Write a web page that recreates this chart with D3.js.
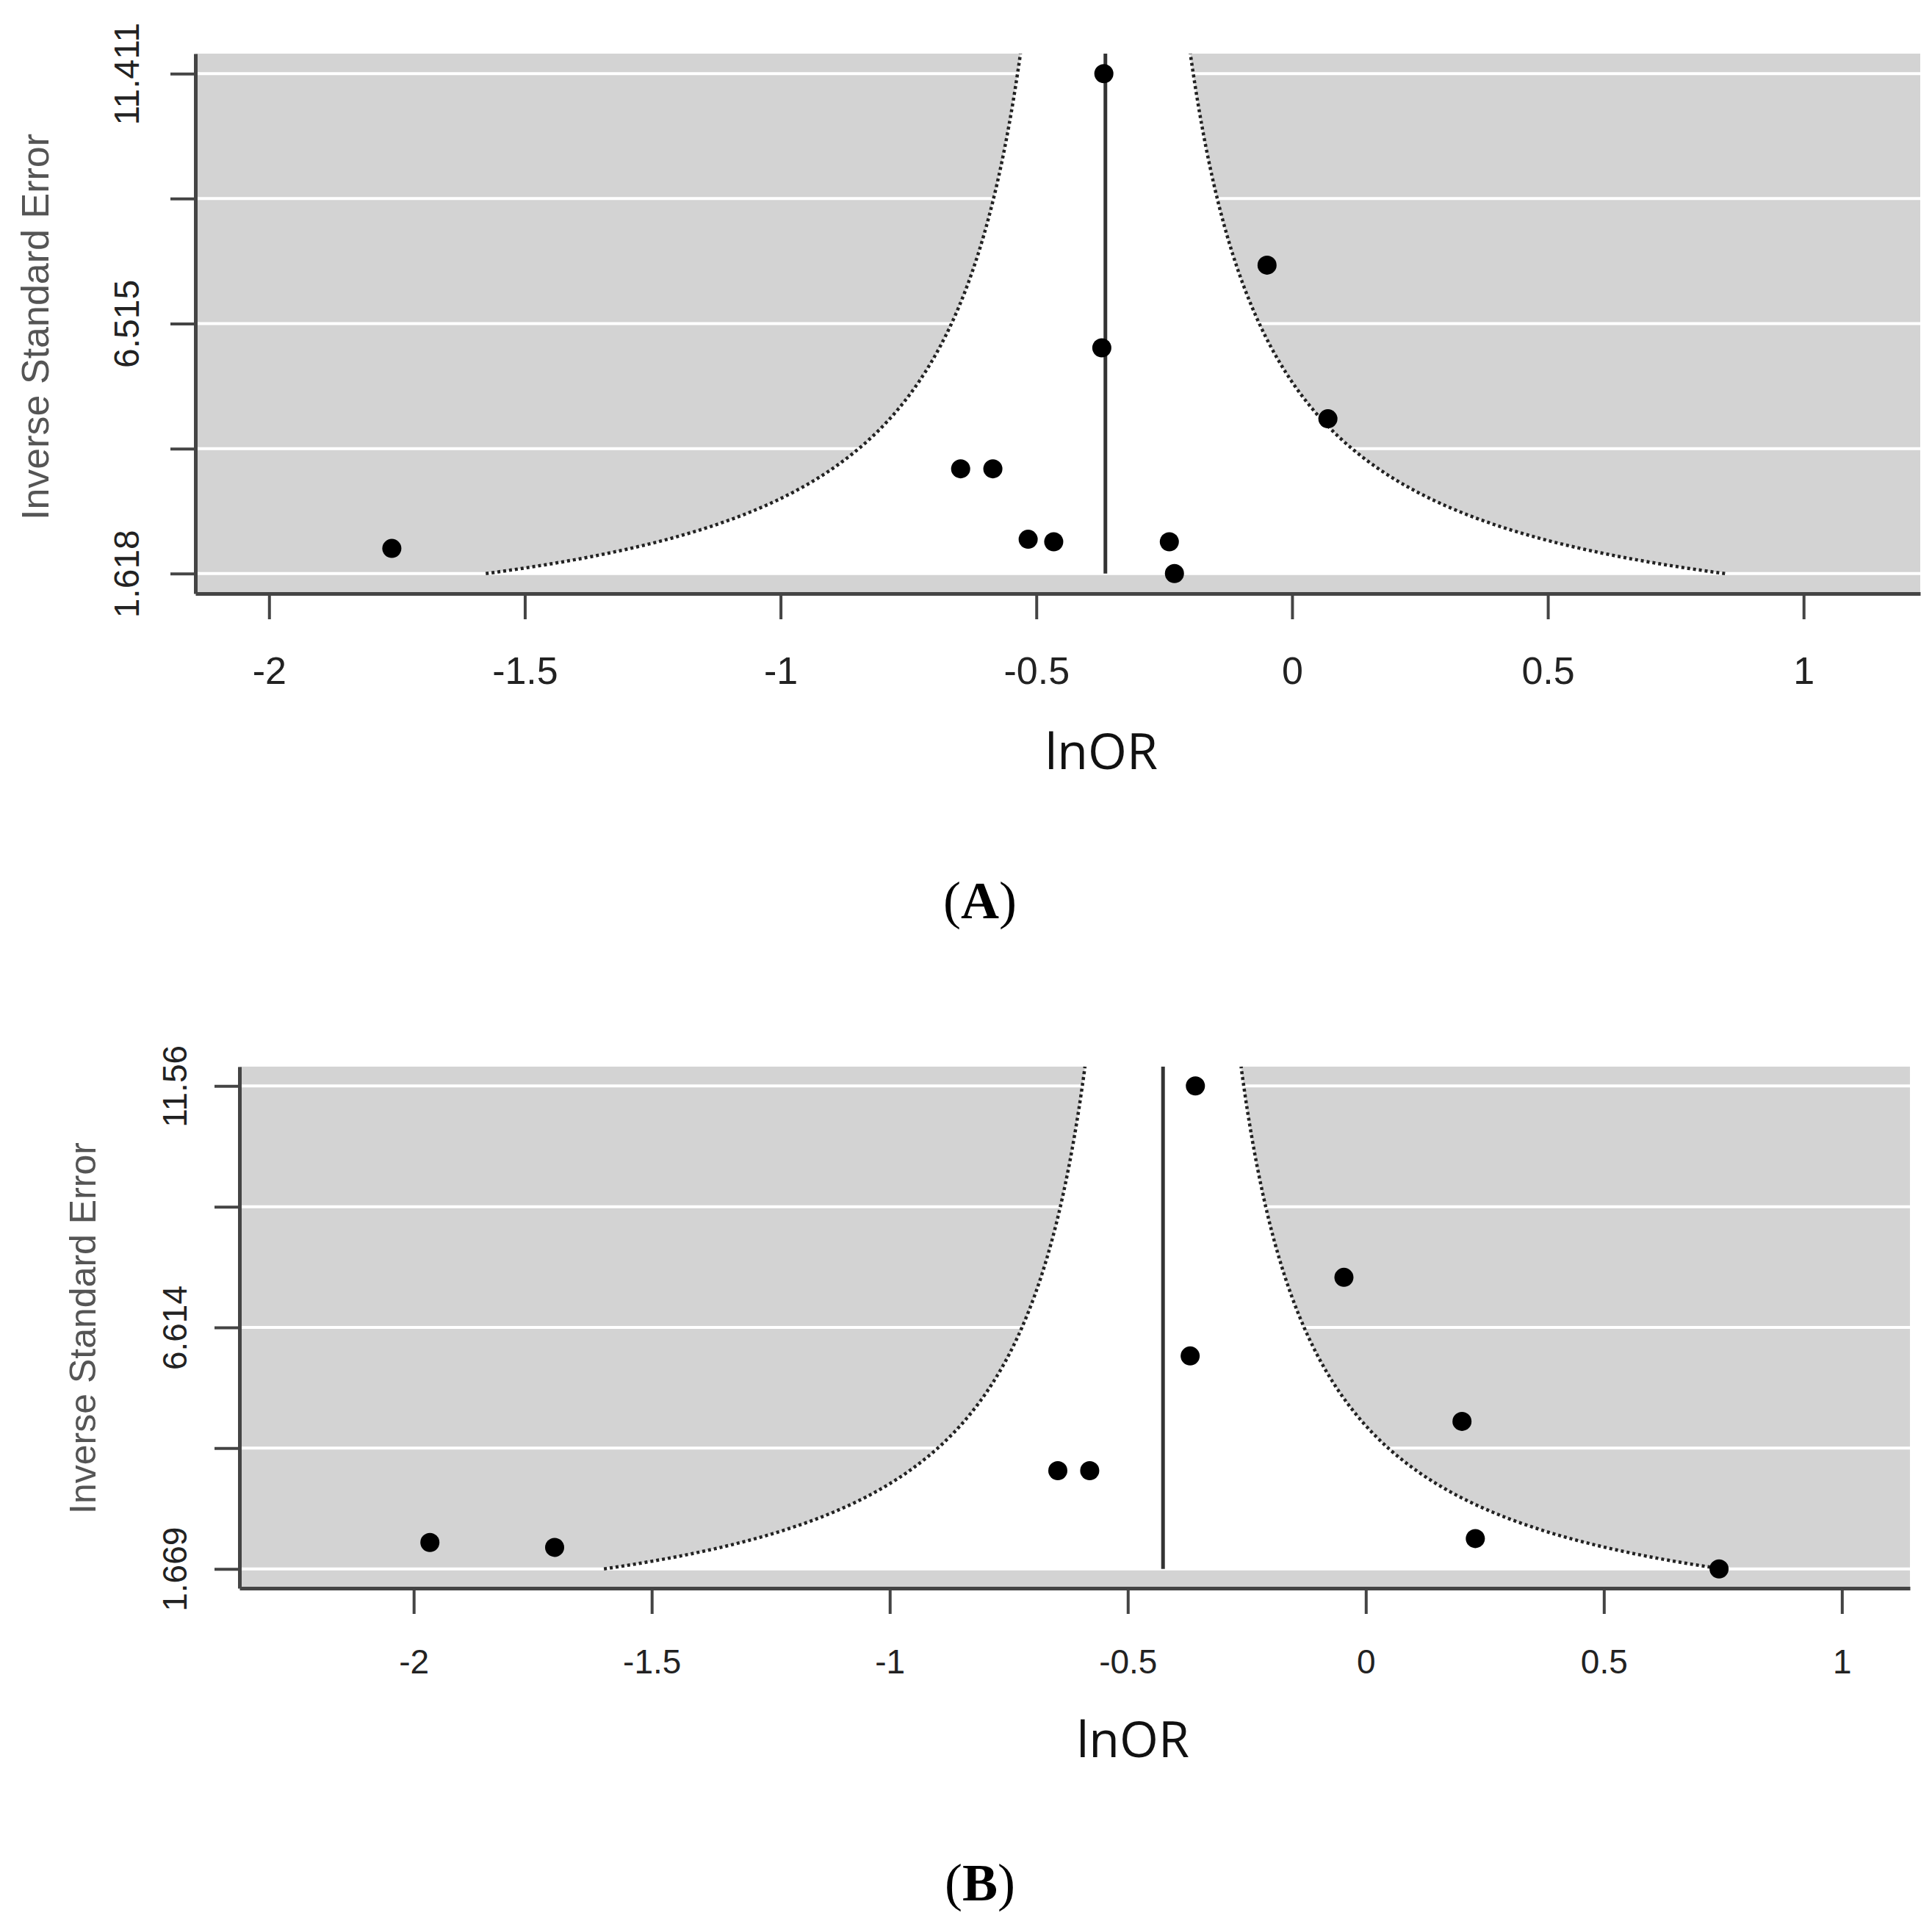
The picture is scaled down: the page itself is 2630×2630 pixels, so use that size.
<!DOCTYPE html>
<html lang="en">
<head>
<meta charset="UTF-8">
<title>Funnel plots (A) and (B)</title>
<script src="https://d3js.org/d3.v7.min.js"></script>
<style>
  body { margin: 0; background: #fff; }
  .axis path, .axis line { stroke: #444; }
  .axis text { font-family: "Liberation Sans", Arial, sans-serif; fill: #222; }
  .ytitle { font-family: "Liberation Sans", Arial, sans-serif; fill: #555; }
  .xtitle { font-family: "Open Sans", "Noto Sans", sans-serif; fill: #111; }
  .panel-label { font-family: "Liberation Serif", "Times New Roman", serif; fill: #000; }
</style>
</head>
<body>
<script>
// Panel A: log odds ratio vs inverse standard error
const lnorA = [-0.368, -0.049, -0.372, 0.070, -0.648, -0.585, -0.516, -0.466, -0.240, -0.230, -1.760];
const invseA = [11.411, 7.66, 6.04, 4.65, 3.67, 3.67, 2.29, 2.24, 2.24, 1.618, 2.11];
const pooledA = -0.365;
const yTicksA = [1.618, 4.0663, 6.515, 8.9628, 11.411];
const yLabelsA = ["1.618", "", "6.515", "", "11.411"];

// Panel B
const lnorB = [-0.358, -0.046, -0.369, 0.202, -0.647, -0.580, 0.230, 0.742, -1.966, -1.704];
const invseB = [11.56, 7.64, 6.03, 4.69, 3.68, 3.68, 2.29, 1.669, 2.21, 2.11];
const pooledB = -0.426;
const yTicksB = [1.669, 4.1418, 6.614, 9.0868, 11.56];
const yLabelsB = ["1.669", "", "6.614", "", "11.56"];

const xTicks = [-2, -1.5, -1, -0.5, 0, 0.5, 1];
const xLabels = ["-2", "-1.5", "-1", "-0.5", "0", "0.5", "1"];

const svg = d3.select("body").append("svg")
    .attr("width", 2630)
    .attr("height", 2630);

function drawPanel(p) {
    // y range padded by 4% like base R plots
    const yMin = d3.min(p.invse), yMax = d3.max(p.invse);
    const pad = (yMax - yMin) * 0.04;

    const x = d3.scaleLinear().domain(p.xDomain).range([p.left, p.right]);
    const y = d3.scaleLinear().domain([yMin - pad, yMax + pad]).range([p.bottom, p.top]);

    const g = svg.append("g");

    // grey background
    g.append("rect")
        .attr("x", p.left).attr("y", p.top)
        .attr("width", p.right - p.left).attr("height", p.bottom - p.top)
        .attr("fill", "#d3d3d3");

    // white grid lines at the y ticks
    g.selectAll(".grid").data(p.yTicks).enter().append("line")
        .attr("x1", p.left).attr("x2", p.right)
        .attr("y1", d => y(d)).attr("y2", d => y(d))
        .attr("stroke", "#fff").attr("stroke-width", 4);

    // funnel: pooled +- 1.96 / inverse SE
    const ys = d3.range(0, 301).map(i => yMin + (yMax + pad - yMin) * i / 300);
    const leftPts = ys.map(v => [x(p.pooled - 1.96 / v), y(v)]);
    const rightPts = ys.map(v => [x(p.pooled + 1.96 / v), y(v)]);

    g.append("path")
        .attr("d", d3.line()(leftPts.concat(rightPts.slice().reverse())) + "Z")
        .attr("fill", "#fff");

    [leftPts, rightPts].forEach(pts => {
        g.append("path")
            .attr("d", d3.line()(pts))
            .attr("fill", "none")
            .attr("stroke", "#222")
            .attr("stroke-width", 4.5)
            .attr("stroke-dasharray", "4,4");
    });

    // pooled estimate line
    g.append("line")
        .attr("x1", x(p.pooled)).attr("x2", x(p.pooled))
        .attr("y1", y(yMin)).attr("y2", p.top)
        .attr("stroke", "#333").attr("stroke-width", 5);

    // studies
    g.selectAll(".pt").data(p.lnor).enter().append("circle")
        .attr("cx", d => x(d))
        .attr("cy", (d, i) => y(p.invse[i]))
        .attr("r", 13)
        .attr("fill", "#000");

    // x axis
    const xa = g.append("g")
        .attr("class", "axis")
        .attr("transform", `translate(0,${p.bottom})`)
        .call(d3.axisBottom(x).tickValues(xTicks)
            .tickFormat((d, i) => xLabels[i])
            .tickSize(35).tickSizeOuter(0));
    xa.select(".domain").attr("stroke-width", 5);
    xa.selectAll(".tick line").attr("stroke-width", 4);
    xa.selectAll(".tick text")
        .attr("y", p.xLabelOffset).attr("dy", "0.36em")
        .attr("font-size", p.tickFont);

    // y axis
    const ya = g.append("g")
        .attr("class", "axis")
        .attr("transform", `translate(${p.left},0)`)
        .call(d3.axisLeft(y).tickValues(p.yTicks)
            .tickFormat((d, i) => p.yLabels[i])
            .tickSize(34).tickSizeOuter(0));
    ya.select(".domain").attr("stroke-width", 5);
    ya.selectAll(".tick line").attr("stroke-width", 4);
    ya.selectAll(".tick text")
        .attr("x", null).attr("dy", "0.36em")
        .attr("text-anchor", "middle")
        .attr("transform", `translate(${-p.yLabelOffset},0) rotate(-90)`)
        .attr("font-size", p.yTickFont);

    // titles
    g.append("text")
        .attr("class", "ytitle")
        .attr("transform", `translate(${p.yTitleX},${p.yTitleY}) rotate(-90)`)
        .attr("text-anchor", "middle").attr("dy", "0.36em")
        .attr("font-size", p.yTitleFont)
        .text("Inverse Standard Error");

    g.append("text")
        .attr("class", "xtitle")
        .attr("x", p.xTitleX).attr("y", p.xTitleY)
        .attr("text-anchor", "middle").attr("dy", "0.36em")
        .attr("font-size", 68)
        .text("lnOR");

    const lab = g.append("text")
        .attr("class", "panel-label")
        .attr("x", 1334).attr("y", p.labelY)
        .attr("text-anchor", "middle")
        .attr("font-size", 72);
    lab.append("tspan").text("(");
    lab.append("tspan").attr("font-weight", "bold").text(p.name);
    lab.append("tspan").text(")");
}

drawPanel({
    name: "A", lnor: lnorA, invse: invseA, pooled: pooledA,
    yTicks: yTicksA, yLabels: yLabelsA,
    xDomain: [-2.144, 1.228],
    left: 266, right: 2614, top: 73, bottom: 808,
    xLabelOffset: 104, tickFont: 52,
    yLabelOffset: 94, yTickFont: 48,
    yTitleX: 47, yTitleY: 445, yTitleFont: 52,
    xTitleX: 1499, xTitleY: 1023,
    labelY: 1250
});

drawPanel({
    name: "B", lnor: lnorB, invse: invseB, pooled: pooledB,
    yTicks: yTicksB, yLabels: yLabelsB,
    xDomain: [-2.366, 1.143],
    left: 326, right: 2600, top: 1452, bottom: 2162,
    xLabelOffset: 99, tickFont: 46,
    yLabelOffset: 89, yTickFont: 46,
    yTitleX: 112, yTitleY: 1808, yTitleFont: 50,
    xTitleX: 1542, xTitleY: 2368,
    labelY: 2587
});
</script>
</body>
</html>
